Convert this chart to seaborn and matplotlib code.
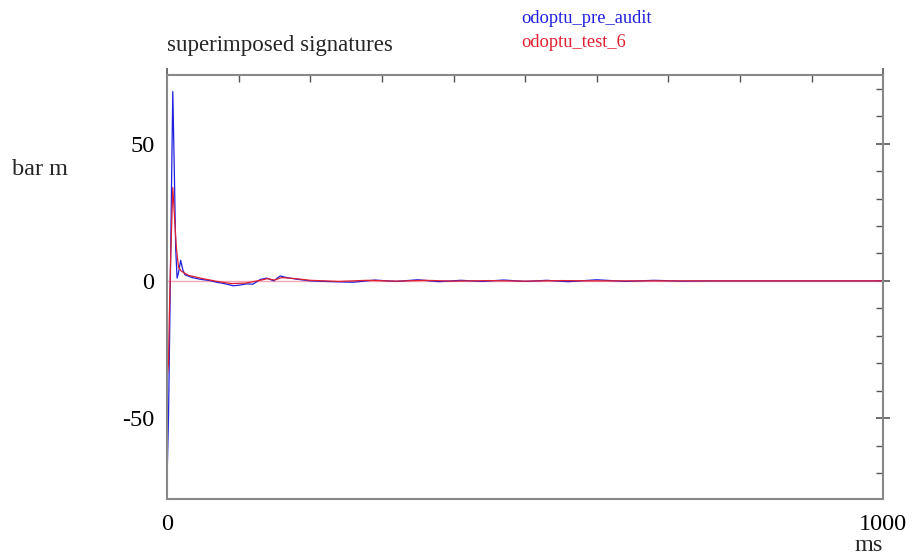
import pandas as pd
import matplotlib.pyplot as plt
import seaborn as sns
import numpy as np

# Signature traces (time in ms, pressure in bar m)
t_pre = [0, 2, 4, 6, 8, 10, 12, 14, 16, 19, 22, 25, 35, 46, 60, 69, 80, 88, 92,
         100, 111, 120, 130, 139, 149, 158, 167, 181, 200, 230, 260, 290, 320,
         350, 380, 410, 440, 470, 500, 530, 560, 600, 640, 680, 720, 760, 1000]
v_pre = [-72, -50, -12, 30, 69, 42, 12, 1, 3, 7.5, 4, 2.2, 1.2, 0.6, 0.1, -0.5,
         -1.0, -1.5, -1.8, -1.6, -1.1, -1.2, 0.5, 1.0, 0.0, 1.8, 1.2, 0.6, 0.0,
         -0.3, -0.5, 0.3, -0.2, 0.4, -0.3, 0.2, -0.2, 0.3, -0.2, 0.2, -0.3, 0.4,
         -0.2, 0.2, -0.1, 0.0, 0.0]

t_test = [0, 2, 3, 5, 8, 10, 13, 16, 20, 30, 50, 70, 90, 110, 130, 140, 150,
          160, 180, 200, 240, 280, 320, 360, 400, 450, 500, 550, 600, 1000]
v_test = [-36, -30, -15, 8, 34, 25, 12, 5, 3.5, 2.0, 0.8, -0.2, -1.0, -0.8, 0.2,
          0.8, 0.3, 1.2, 0.8, 0.2, -0.2, 0.2, -0.1, 0.2, -0.1, 0.1, -0.1, 0.1,
          0.0, 0.0]

series_names = ['odoptu_pre_audit', 'odoptu_test_6']
series_colors = ['#2020e0', '#e02030']

df = pd.concat([
    pd.DataFrame({'ms': t_pre, 'bar_m': v_pre, 'signature': series_names[0]}),
    pd.DataFrame({'ms': t_test, 'bar_m': v_test, 'signature': series_names[1]}),
])

sns.set_style('white')
plt.rcParams['font.family'] = ['Liberation Serif', 'DejaVu Serif']
plt.rcParams['axes.unicode_minus'] = False

fig = plt.figure(figsize=(9.23, 5.56), dpi=100)
ax = fig.add_axes([0.181, 0.1025, 0.776, 0.7625])

# zero reference line
ax.axhline(0, color='#f0a8b8', lw=1.0, zorder=1)

sns.lineplot(data=df, x='ms', y='bar_m', hue='signature', palette=series_colors,
             hue_order=series_names, lw=0.9, legend=False, ax=ax, sort=False)

ax.set_xlim(0, 1000)
ax.set_ylim(-79.5, 75)
ax.set_xticks([0, 1000])
ax.set_xticks(np.arange(100, 1000, 100), minor=True)
ax.set_yticks([-50, 0, 50])
ax.set_yticks(np.arange(-70, 75, 10), minor=True)
ax.tick_params(which='both', top=True, right=True, colors='#555555',
               labelcolor='black', labelsize=17.5)
ax.tick_params(which='major', direction='inout', length=10, width=1.2)
ax.tick_params(which='minor', direction='in', length=5, width=1.0)
ax.tick_params(axis='x', pad=6)
ax.tick_params(axis='y', pad=4)
for s in ax.spines.values():
    s.set_color('#888888')
    s.set_linewidth(1.5)

ax.set_xlabel('')
ax.set_ylabel('')
fig.text(0.013, 0.695, 'bar m', fontsize=17.5, ha='left', va='center')
fig.text(0.957, 0.0, 'ms', fontsize=17.5, ha='right', va='bottom')
fig.text(0.181, 0.9, 'superimposed signatures', fontsize=16.5, ha='left', va='bottom')
fig.text(0.565, 0.967, series_names[0], fontsize=13.3, color=series_colors[0], va='center')
fig.text(0.565, 0.924, series_names[1], fontsize=13.3, color=series_colors[1], va='center')

fig.savefig('out.png', dpi=100)
